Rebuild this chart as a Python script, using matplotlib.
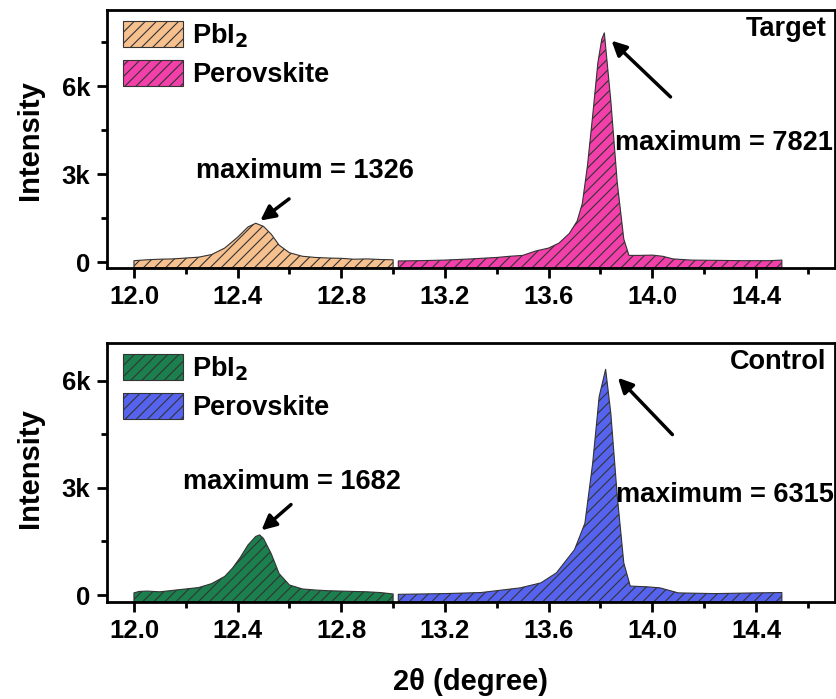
import numpy as np
import matplotlib
matplotlib.use('Agg')
from matplotlib import pyplot as plt
from matplotlib.ticker import FixedLocator

plt.rcParams['font.family'] = ['Liberation Sans', 'DejaVu Sans']
plt.rcParams['hatch.linewidth'] = 0.8

# --- Target: PbI2 region
t_pbi2_x = [12.00, 12.05, 12.10, 12.15, 12.20, 12.25, 12.30, 12.35, 12.40, 12.44, 12.47,
            12.50, 12.53, 12.56, 12.60, 12.65, 12.70, 12.75, 12.80, 12.85, 12.90, 12.95, 13.00]
t_pbi2_y = [50, 80, 100, 110, 140, 170, 260, 480, 850, 1200, 1326,
            1220, 950, 580, 320, 200, 160, 140, 130, 100, 110, 90, 80]
# --- Target: perovskite region
t_pero_x = [13.02, 13.10, 13.20, 13.30, 13.40, 13.45, 13.50, 13.55, 13.60, 13.64, 13.68, 13.71,
            13.73, 13.75, 13.77, 13.79, 13.805, 13.815, 13.84, 13.865, 13.89, 13.91, 13.95,
            14.00, 14.04, 14.08, 14.15, 14.25, 14.35, 14.45, 14.50]
t_pero_y = [40, 50, 70, 110, 160, 200, 230, 380, 480, 650, 980, 1400,
            2000, 3300, 5000, 6800, 7600, 7821, 5500, 2700, 790, 230, 230,
            240, 200, 110, 70, 60, 50, 50, 70]
# --- Control: PbI2 region
c_pbi2_x = [12.00, 12.02, 12.05, 12.10, 12.15, 12.20, 12.25, 12.30, 12.35, 12.38, 12.41, 12.44,
            12.47, 12.485, 12.50, 12.53, 12.56, 12.60, 12.65, 12.70, 12.75, 12.80, 12.85,
            12.90, 12.95, 13.00]
c_pbi2_y = [60, 100, 110, 90, 130, 170, 210, 320, 520, 750, 1050, 1400,
            1640, 1682, 1580, 1150, 600, 280, 170, 140, 120, 110, 100,
            90, 70, 30]
# --- Control: perovskite region
c_pero_x = [13.02, 13.20, 13.34, 13.49, 13.57, 13.63, 13.70, 13.74, 13.77, 13.795, 13.82,
            13.84, 13.865, 13.89, 13.915, 13.98, 14.03, 14.10, 14.24, 14.40, 14.50]
c_pero_y = [20, 40, 70, 200, 340, 620, 1270, 2010, 3690, 5550, 6315,
            5080, 2760, 900, 250, 230, 200, 60, 40, 60, 70]

panels = [
    dict(name='Target', pbi2=(t_pbi2_x, t_pbi2_y), pero=(t_pero_x, t_pero_y),
         colors=('#F6C08F', '#F23FA9'), ylim=(-200, 8600),
         pb_text=(12.66, 3095, 'maximum = 1326'), pb_arrow=((12.607, 2214), (12.479, 1360)),
         pe_text=(13.858, 4078, 'maximum = 7821'), pe_arrow=((14.078, 5570), (13.835, 7620))),
    dict(name='Control', pbi2=(c_pbi2_x, c_pbi2_y), pero=(c_pero_x, c_pero_y),
         colors=('#1B7F4E', '#5563EE'), ylim=(-195, 7050),
         pb_text=(12.611, 3167, 'maximum = 1682'), pb_arrow=((12.614, 2581), (12.484, 1760)),
         pe_text=(13.859, 2805, 'maximum = 6315'), pe_arrow=((14.085, 4432), (13.86, 6134))),
]

fig = plt.figure(figsize=(8.37, 6.99), dpi=100)
rects = [[107/837, 1-268/699, 728/837, 258/699], [107/837, 1-602/699, 728/837, 259/699]]

for p, r in zip(panels, rects):
    ax = fig.add_axes(r)
    y0 = p['ylim'][0]
    ax.fill_between(p['pbi2'][0], p['pbi2'][1], y0, facecolor=p['colors'][0],
                    edgecolor='#333333', hatch='///', linewidth=0.8, label='PbI$_\\mathbf{2}$')
    ax.fill_between(p['pero'][0], p['pero'][1], y0, facecolor=p['colors'][1],
                    edgecolor='#333333', hatch='///', linewidth=0.8, label='Perovskite')
    ax.set_xlim(11.896, 14.705)
    ax.set_ylim(*p['ylim'])
    ax.set_xticks([12.0, 12.4, 12.8, 13.2, 13.6, 14.0, 14.4])
    ax.xaxis.set_minor_locator(FixedLocator([12.2, 12.6, 13.0, 13.4, 13.8, 14.2, 14.6]))
    ax.set_yticks([0, 3000, 6000])
    ax.set_yticklabels(['0', '3k', '6k'])
    ax.yaxis.set_minor_locator(FixedLocator([1500, 4500, 7500]))
    ax.tick_params(which='major', length=7, width=2, labelsize=18.5, pad=5)
    ax.tick_params(which='minor', length=4, width=2)
    for lab in ax.get_xticklabels() + ax.get_yticklabels():
        lab.set_fontweight('bold')
    for s in ax.spines.values():
        s.set_linewidth(2)

    leg = ax.legend(loc='upper left', frameon=False, prop=dict(size=19.5, weight='bold'),
                    handlelength=2.2, handleheight=1.1, labelspacing=0.38,
                    borderaxespad=0.05, borderpad=0.35, handletextpad=0.35,
                    bbox_to_anchor=(0.007, 1.0))

    ax.text(0.988, 0.975, p['name'], transform=ax.transAxes, ha='right', va='top',
            fontsize=19.5, fontweight='bold')
    ax.text(p['pb_text'][0], p['pb_text'][1], p['pb_text'][2], ha='center', va='center',
            fontsize=19.5, fontweight='bold')
    ax.text(p['pe_text'][0], p['pe_text'][1], p['pe_text'][2], ha='left', va='center',
            fontsize=19.5, fontweight='bold')
    for tail, tip in (p['pb_arrow'], p['pe_arrow']):
        ax.annotate('', xy=tip, xytext=tail,
                    arrowprops=dict(arrowstyle='-|>', lw=2.5, color='black', mutation_scale=22))

fig.text(30/837, 1-140/699, 'Intensity', rotation=90, ha='center', va='center',
         fontsize=21, fontweight='bold')
fig.text(30/837, 1-468/699, 'Intensity', rotation=90, ha='center', va='center',
         fontsize=21, fontweight='bold')
fig.text(471/837, 1-682/699, '2θ (degree)', ha='center', va='center',
         fontsize=21, fontweight='bold')

fig.savefig('out.png', dpi=100)
